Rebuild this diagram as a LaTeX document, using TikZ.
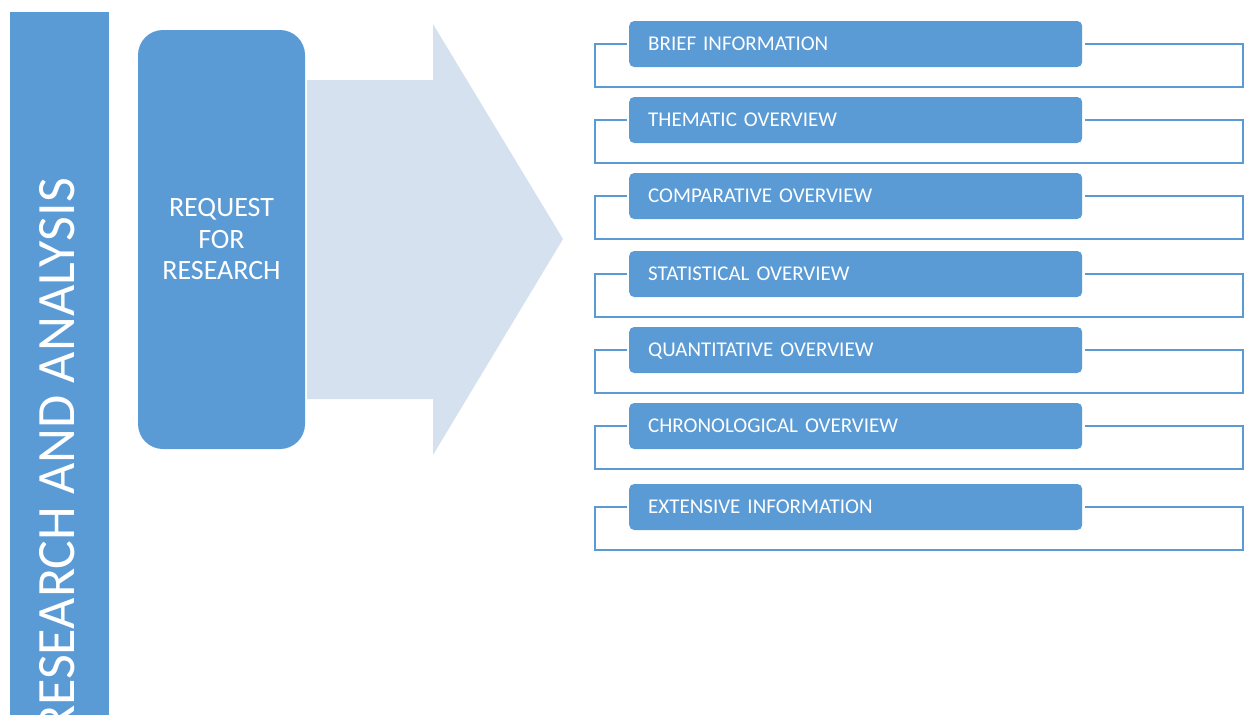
\documentclass[tikz,border=0pt]{standalone}
\usepackage{fontspec}
\setmainfont{Carlito}
\usepackage{tikz}

\definecolor{boxblue}{RGB}{91,155,213}
\definecolor{arrowfill}{RGB}{213,225,239}

\begin{document}
\begin{tikzpicture}
        [
        x=1pt, y=-1pt,
        request/.style={rectangle,rounded corners=25pt,fill=boxblue,text=white,
            minimum width=167pt,minimum height=419pt,align=center,
            font=\fontsize{28}{31.5}\selectfont},
        item/.style={rectangle,rounded corners=5pt,fill=boxblue,text=white,anchor=west,
            inner xsep=19pt,text width=415pt,minimum height=46pt,align=left,
            text depth=0pt,font=\fontsize{21}{24}\selectfont},
        bracket/.style={draw=boxblue,line width=2pt}
        ]
    \useasboundingbox (0,0) rectangle (1245,715);

    % side panel with the title
    \fill[boxblue] (10,12) rectangle (109,715);
    \node[rotate=90,anchor=east,inner sep=0pt,text=white,
        font=\fontsize{54}{60}\selectfont] (title) at (57.5,178) {RESEARCH AND ANALYSIS};

    % big arrow behind the request box
    \fill[arrowfill] (307,80) -- (433,80) -- (433,24) -- (563,239)
        -- (433,455) -- (433,399) -- (307,399) -- cycle;
    \node[request] (req) at (221.5,239.5) {REQUEST\\FOR\\RESEARCH};

    % list of outputs
    \foreach \y/\txt [count=\i] in {44/BRIEF INFORMATION,120/THEMATIC OVERVIEW,
        196/COMPARATIVE OVERVIEW,274/STATISTICAL OVERVIEW,350/QUANTITATIVE OVERVIEW,
        426/CHRONOLOGICAL OVERVIEW,507/EXTENSIVE INFORMATION}
    {
        \node[item] (item\i) at (629,\y) {\txt};
        \draw[bracket] ([xshift=-2pt]item\i.west) -| (595,\y+43) -| (1243,\y)
            -- ([xshift=3pt]item\i.east);
    }
\end{tikzpicture}
\end{document}
